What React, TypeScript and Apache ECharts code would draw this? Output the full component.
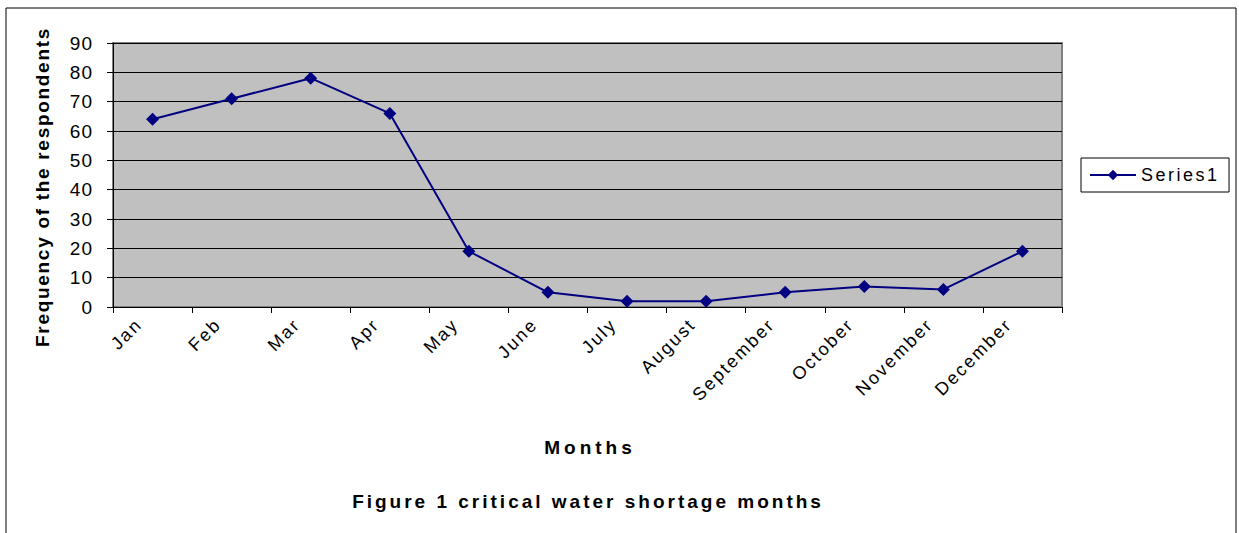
import React, { useEffect, useRef } from "react";
import * as echarts from "echarts";

const months = ["Jan", "Feb", "Mar", "Apr", "May", "June", "July", "August", "September", "October", "November", "December"];
const frequency = [64, 71, 78, 66, 19, 5, 2, 2, 5, 7, 6, 19];
const seriesName = "Series1";
const xTitle = "Months";
const yTitle = "Frequency of the respondents";
const caption = "Figure 1 critical water shortage months";

export default function App() {
  const ref = useRef<HTMLDivElement>(null);
  useEffect(() => {
    if (!ref.current) return;
    const el = ref.current;
    const chart = echarts.init(el, undefined, { renderer: "svg" });
    const font = "Arial, 'Liberation Sans', sans-serif";
    chart.setOption({
      animation: false,
      backgroundColor: "#ffffff",
      grid: {
        left: 113,
        top: 43,
        right: 177,
        bottom: 226,
        show: true,
        backgroundColor: "#c0c0c0",
        borderColor: "#808080",
        borderWidth: 2,
      },
      legend: {
        left: 1081,
        top: 158,
        orient: "vertical",
        data: [seriesName],
        backgroundColor: "#ffffff",
        borderColor: "#000000",
        borderWidth: 1,
        borderRadius: 0,
        padding: [8, 27, 8, 8],
        itemWidth: 46,
        itemHeight: 13,
        itemGap: 4,
        textStyle: { fontFamily: font, fontSize: 18, color: "#000" },
      },
      xAxis: {
        type: "category",
        data: months,
        boundaryGap: true,
        axisLine: { lineStyle: { color: "#000", width: 1 } },
        axisTick: { show: true, interval: 0, length: 6, lineStyle: { color: "#000" } },
        axisLabel: {
          interval: 0,
          rotate: 45,
          margin: 1,
          padding: [0, 19, 0, 0],
          fontFamily: font,
          fontSize: 18,
          color: "#000",
        },
        splitLine: { show: false },
      },
      yAxis: {
        type: "value",
        min: 0,
        max: 90,
        interval: 10,
        axisLine: { show: true, lineStyle: { color: "#000", width: 1 } },
        axisTick: { show: true, length: 6, lineStyle: { color: "#000" } },
        axisLabel: { fontFamily: font, fontSize: 19, color: "#000", margin: 20 },
        splitLine: { show: true, lineStyle: { color: "#000", width: 1 } },
      },
      series: [
        {
          name: seriesName,
          type: "line",
          data: frequency,
          symbol: "diamond",
          symbolSize: 13,
          lineStyle: { color: "#000080", width: 2 },
          itemStyle: { color: "#000080" },
        },
      ],
      graphic: [
        {
          type: "rect",
          shape: { x: 6, y: 8, width: 1230, height: 540 },
          style: { fill: "none", stroke: "#000", lineWidth: 1 },
          silent: true,
          z: -1,
        },
        {
          type: "text",
          x: 42,
          y: 187,
          rotation: Math.PI / 2,
          style: {
            text: yTitle,
            fontFamily: font,
            fontSize: 19,
            fontWeight: "bold",
            fill: "#000",
            textAlign: "center",
            textVerticalAlign: "middle",
          },
        },
        {
          type: "text",
          x: 590,
          y: 447,
          style: {
            text: xTitle,
            fontFamily: font,
            fontSize: 19,
            fontWeight: "bold",
            fill: "#000",
            textAlign: "center",
            textVerticalAlign: "middle",
          },
        },
        {
          type: "text",
          x: 588,
          y: 501,
          style: {
            text: caption,
            fontFamily: font,
            fontSize: 19,
            fontWeight: "bold",
            fill: "#000",
            textAlign: "center",
            textVerticalAlign: "middle",
          },
        },
      ],
    });

    const spacing = (s: string): number => {
      if (s === caption) return 3;
      if (s === xTitle) return 4;
      if (s === yTitle) return 1.7;
      if (s === seriesName) return 2.5;
      if (months.indexOf(s) >= 0) return 2.2;
      return 1;
    };
    const apply = () => {
      el.querySelectorAll("text").forEach((t) => {
        const s = t.textContent || "";
        t.setAttribute("letter-spacing", String(spacing(s)));
      });
    };
    apply();
    chart.on("rendered", apply);
    const timer = setTimeout(apply, 30);
    return () => {
      clearTimeout(timer);
      chart.dispose();
    };
  }, []);
  return (
    <div
      ref={ref}
      style={{ position: "fixed", left: 0, top: 0, width: 1239, height: 533 }}
    />
  );
}
